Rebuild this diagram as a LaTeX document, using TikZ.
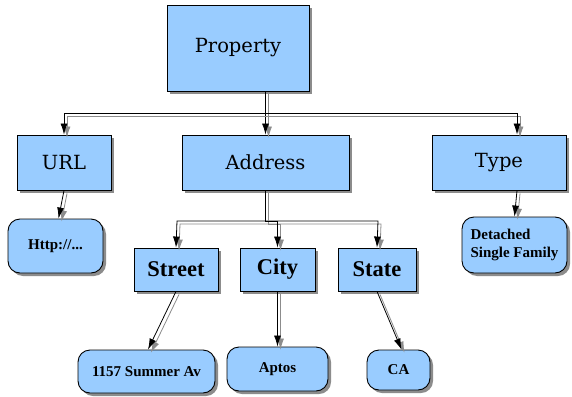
\documentclass[tikz,border=0pt]{standalone}
\usepackage{fontspec}
\setmainfont{Liberation Serif}
\newfontfamily\topfont{DejaVu Serif}
\usetikzlibrary{arrows.meta,shadows}
\definecolor{boxblue}{HTML}{99CCFF}
\definecolor{shade}{HTML}{8C8C8C}
\tikzset{
  box/.style={draw=black, line width=0.9pt, fill=boxblue, inner sep=0pt,
    minimum width=#1, font=\topfont\fontsize{19.5}{22}\selectfont,
    drop shadow={shadow xshift=3pt, shadow yshift=-3pt, fill=shade, opacity=1}},
  leaf/.style={draw=black, line width=0.9pt, fill=boxblue, rounded corners=12pt, inner sep=0pt,
    font=\bfseries\fontsize{15}{18}\selectfont, align=left,
    drop shadow={shadow xshift=3pt, shadow yshift=-3pt, fill=shade, opacity=1}},
  midbox/.style={box=#1, minimum height=43pt, font=\bfseries\fontsize{22.5}{24}\selectfont},
  mainline/.style={draw=black, line width=0.8pt, -{Latex[length=11pt,width=7pt]}},
  shadowline/.style={draw=shade, line width=0.8pt, -{Latex[length=11pt,width=7pt]},
    transform canvas={shift={(3pt,-3pt)}}},
}
\newcommand\conn[1]{\draw[shadowline] #1; \draw[mainline] #1;}
\begin{document}
\begin{tikzpicture}[x=1pt,y=-1pt]
\useasboundingbox[fill=white] (0,0) rectangle (572,396);
% level 0
\node[box=142pt, minimum height=86pt] (prop) at (238,48) {Property};
% level 1
\node[box=94pt, minimum height=55pt] (url) at (64,162.5) {URL};
\node[box=167pt, minimum height=55pt] (addr) at (265.5,162.5) {Address};
\node[box=134pt, minimum height=55pt] (type) at (499,162.5) {Type};
% level 2
\node[leaf, minimum width=95pt, minimum height=54pt] (http) at (55.5,246) {Http://...};
\node[leaf, minimum width=105pt, minimum height=56pt] (det) at (514.5,245) {Detached\\Single Family};
\node[midbox=84pt] (street) at (176,269.5) {Street};
\node[midbox=75pt] (city) at (277.5,269.5) {City};
\node[midbox=78pt] (state) at (377,269.5) {State};
% level 3
\node[leaf, minimum width=137pt, minimum height=43pt] (summer) at (146.5,371.5) {1157 Summer Av};
\node[leaf, minimum width=101pt, minimum height=44pt] (aptos) at (277.5,369) {Aptos};
\node[leaf, minimum width=63pt, minimum height=40pt] (ca) at (398.5,370) {CA};
% connectors
\coordinate (busL) at (64,113);
\coordinate (busR) at (517,113);
\conn{(prop.south -| addr.north) -- (addr.north)}
\conn{(prop.south -| addr.north) |- (busL) -- (url.north)}
\conn{(prop.south -| addr.north) |- (busR) -- ([xshift=18pt]type.north)}
\coordinate (bus2L) at (177,221);
\coordinate (bus2R) at (378,221);
\conn{(addr.south) |- (bus2L) -- (street.north)}
\conn{(addr.south) |- (bus2R) -- (state.north)}
\conn{(addr.south) |- (city.north |- bus2L) -- (city.north)}
\conn{(url.south) -- ([xshift=3pt]http.north)}
\conn{([xshift=18pt]type.south) -- (det.north)}
\conn{(street.south) -- ([xshift=1.5pt]summer.north)}
\conn{(city.south) -- (aptos.north)}
\conn{(state.south) -- ([xshift=3pt]ca.north)}
\end{tikzpicture}
\end{document}
